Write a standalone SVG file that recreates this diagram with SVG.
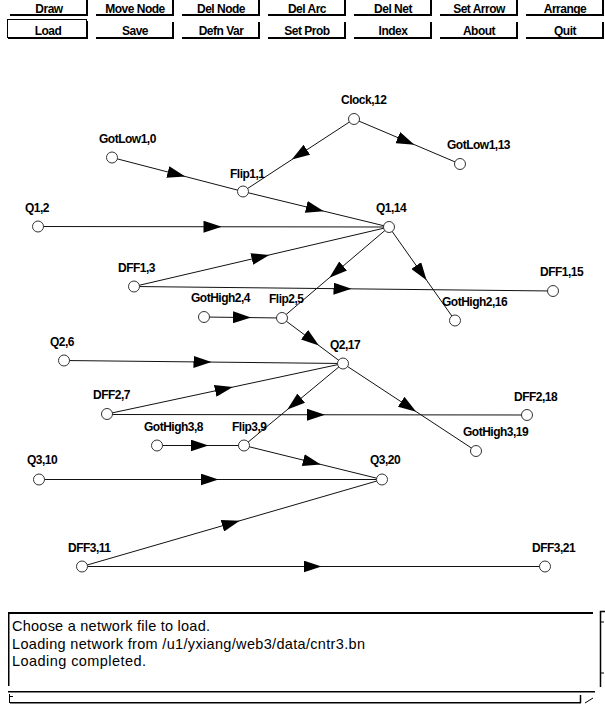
<svg xmlns="http://www.w3.org/2000/svg" width="605" height="709" viewBox="0 0 605 709">
<style>
.btn{font-family:"Liberation Sans",Arial,sans-serif;font-weight:bold;font-size:12px;letter-spacing:-0.5px;text-anchor:middle;fill:#000}
.lbl{font-family:"Liberation Sans",Arial,sans-serif;font-weight:bold;font-size:12px;letter-spacing:-0.5px;fill:#000}
.msg{font-family:"Liberation Sans",Arial,sans-serif;font-size:14.5px;fill:#000}
.edge{fill:none;stroke:#111;stroke-width:1;marker-mid:url(#arr)}
.node circle{fill:#fff;stroke:#333;stroke-width:1}
.bar{fill:#000}
</style>
<defs>
<marker id="arr" markerUnits="userSpaceOnUse" viewBox="-10 -6 18 12" refX="0" refY="0" markerWidth="18" markerHeight="12" orient="auto">
<polygon points="-10,-6 8,0 -10,6" fill="#000"/>
</marker>
</defs>
<rect width="605" height="709" fill="#fff"/>
<g id="toolbar">
<g id="btn-draw"><rect class="bar" x="10" y="14" width="78" height="2"/><rect class="bar" x="86" y="0" width="2" height="16"/><text class="btn" x="49" y="12.5">Draw</text></g>
<g id="btn-move"><rect class="bar" x="96" y="14" width="78" height="2"/><rect class="bar" x="172" y="0" width="2" height="16"/><text class="btn" x="135" y="12.5">Move Node</text></g>
<g id="btn-delnode"><rect class="bar" x="182" y="14" width="78" height="2"/><rect class="bar" x="258" y="0" width="2" height="16"/><text class="btn" x="221" y="12.5">Del Node</text></g>
<g id="btn-delarc"><rect class="bar" x="268" y="14" width="78" height="2"/><rect class="bar" x="344" y="0" width="2" height="16"/><text class="btn" x="307" y="12.5">Del Arc</text></g>
<g id="btn-delnet"><rect class="bar" x="354" y="14" width="78" height="2"/><rect class="bar" x="430" y="0" width="2" height="16"/><text class="btn" x="393" y="12.5">Del Net</text></g>
<g id="btn-setarrow"><rect class="bar" x="440" y="14" width="78" height="2"/><rect class="bar" x="516" y="0" width="2" height="16"/><text class="btn" x="479" y="12.5">Set Arrow</text></g>
<g id="btn-arrange"><rect class="bar" x="526" y="14" width="78" height="2"/><rect class="bar" x="602" y="0" width="2" height="16"/><text class="btn" x="565" y="12.5">Arrange</text></g>
<g id="btn-load"><rect x="7.5" y="19.5" width="79" height="18" fill="none" stroke="#000" stroke-width="1"/><rect class="bar" x="8" y="37" width="80" height="2"/><rect class="bar" x="86" y="21" width="2" height="18"/><text class="btn" x="48" y="35">Load</text></g>
<g id="btn-save"><rect class="bar" x="96" y="37" width="78" height="2"/><rect class="bar" x="172" y="22" width="2" height="17"/><text class="btn" x="135" y="35">Save</text></g>
<g id="btn-defnvar"><rect class="bar" x="182" y="37" width="78" height="2"/><rect class="bar" x="258" y="22" width="2" height="17"/><text class="btn" x="221" y="35">Defn Var</text></g>
<g id="btn-setprob"><rect class="bar" x="268" y="37" width="78" height="2"/><rect class="bar" x="344" y="22" width="2" height="17"/><text class="btn" x="307" y="35">Set Prob</text></g>
<g id="btn-index"><rect class="bar" x="354" y="37" width="78" height="2"/><rect class="bar" x="430" y="22" width="2" height="17"/><text class="btn" x="393" y="35">Index</text></g>
<g id="btn-about"><rect class="bar" x="440" y="37" width="78" height="2"/><rect class="bar" x="516" y="22" width="2" height="17"/><text class="btn" x="479" y="35">About</text></g>
<g id="btn-quit"><rect class="bar" x="526" y="37" width="78" height="2"/><rect class="bar" x="602" y="22" width="2" height="17"/><text class="btn" x="565" y="35">Quit</text></g>
</g>
<g id="connectors">
<path class="edge" d="M112,157.5 L177.5,174.5 L243,191.5"/>
<path class="edge" d="M354,119 L298.5,155.25 L243,191.5"/>
<path class="edge" d="M354,119 L407,141.5 L460,164"/>
<path class="edge" d="M243,191.5 L316,209.25 L389,227"/>
<path class="edge" d="M38,226.5 L213.5,226.75 L389,227"/>
<path class="edge" d="M134,286.5 L261.5,256.75 L389,227"/>
<path class="edge" d="M389,227 L335.5,272.5 L282,318"/>
<path class="edge" d="M389,227 L422,273.75 L455,320.5"/>
<path class="edge" d="M134,286.5 L343.5,288.75 L553,291"/>
<path class="edge" d="M204,317 L243,317.5 L282,318"/>
<path class="edge" d="M282,318 L312.5,340.75 L343,363.5"/>
<path class="edge" d="M64,360.5 L203.5,362 L343,363.5"/>
<path class="edge" d="M107,414 L225,388.75 L343,363.5"/>
<path class="edge" d="M343,363.5 L293.5,404.5 L244,445.5"/>
<path class="edge" d="M343,363.5 L409.5,407.25 L476,451"/>
<path class="edge" d="M107,414.5 L317,414.75 L527,415"/>
<path class="edge" d="M157,445.5 L200.5,445.5 L244,445.5"/>
<path class="edge" d="M244,445.5 L313,462.5 L382,479.5"/>
<path class="edge" d="M39,479.5 L210.5,479.5 L382,479.5"/>
<path class="edge" d="M82,566.5 L232,523 L382,479.5"/>
<path class="edge" d="M82,566.5 L313.5,566.5 L545,566.5"/>
</g>
<g id="n0" class="node"><circle cx="112" cy="157.5" r="5.5"/><text class="lbl" x="99" y="143">GotLow1,0</text></g>
<g id="n1" class="node"><circle cx="243" cy="191.5" r="5.5"/><text class="lbl" x="230" y="178">Flip1,1</text></g>
<g id="n2" class="node"><circle cx="38" cy="226.5" r="5.5"/><text class="lbl" x="25" y="212">Q1,2</text></g>
<g id="n3" class="node"><circle cx="134" cy="286.5" r="5.5"/><text class="lbl" x="118" y="272">DFF1,3</text></g>
<g id="n4" class="node"><circle cx="204" cy="317" r="5.5"/><text class="lbl" x="191" y="302">GotHigh2,4</text></g>
<g id="n5" class="node"><circle cx="282" cy="318" r="5.5"/><text class="lbl" x="269" y="303">Flip2,5</text></g>
<g id="n6" class="node"><circle cx="64" cy="360.5" r="5.5"/><text class="lbl" x="50" y="346">Q2,6</text></g>
<g id="n7" class="node"><circle cx="107" cy="414" r="5.5"/><text class="lbl" x="93" y="399">DFF2,7</text></g>
<g id="n8" class="node"><circle cx="157" cy="445.5" r="5.5"/><text class="lbl" x="144" y="431">GotHigh3,8</text></g>
<g id="n9" class="node"><circle cx="244" cy="445.5" r="5.5"/><text class="lbl" x="232" y="431">Flip3,9</text></g>
<g id="n10" class="node"><circle cx="39" cy="479.5" r="5.5"/><text class="lbl" x="27" y="464">Q3,10</text></g>
<g id="n11" class="node"><circle cx="82" cy="566.5" r="5.5"/><text class="lbl" x="68" y="552">DFF3,11</text></g>
<g id="n12" class="node"><circle cx="354" cy="119" r="5.5"/><text class="lbl" x="341" y="104">Clock,12</text></g>
<g id="n13" class="node"><circle cx="460" cy="164" r="5.5"/><text class="lbl" x="447" y="149">GotLow1,13</text></g>
<g id="n14" class="node"><circle cx="389" cy="227" r="5.5"/><text class="lbl" x="376" y="212">Q1,14</text></g>
<g id="n15" class="node"><circle cx="553" cy="291" r="5.5"/><text class="lbl" x="540" y="276">DFF1,15</text></g>
<g id="n16" class="node"><circle cx="455" cy="320.5" r="5.5"/><text class="lbl" x="442" y="306">GotHigh2,16</text></g>
<g id="n17" class="node"><circle cx="343" cy="363.5" r="5.5"/><text class="lbl" x="330" y="349">Q2,17</text></g>
<g id="n18" class="node"><circle cx="527" cy="415" r="5.5"/><text class="lbl" x="514" y="401">DFF2,18</text></g>
<g id="n19" class="node"><circle cx="476" cy="451" r="5.5"/><text class="lbl" x="463" y="436">GotHigh3,19</text></g>
<g id="n20" class="node"><circle cx="382" cy="479.5" r="5.5"/><text class="lbl" x="370" y="464">Q3,20</text></g>
<g id="n21" class="node"><circle cx="545" cy="566.5" r="5.5"/><text class="lbl" x="532" y="552">DFF3,21</text></g>
<g id="messages">
<rect class="bar" x="8" y="612" width="585" height="2"/>
<rect class="bar" x="8" y="612" width="1.5" height="74"/>
<text class="msg" x="12" y="631" textLength="198" lengthAdjust="spacing">Choose a network file to load.</text>
<text class="msg" x="12" y="649" textLength="353" lengthAdjust="spacing">Loading network from /u1/yxiang/web3/data/cntr3.bn</text>
<text class="msg" x="12" y="666" textLength="134" lengthAdjust="spacing">Loading completed.</text>
<path d="M605,611.5 H600.5 V687" fill="none" stroke="#000" stroke-width="1.5"/>
<path d="M601,622 H604 M601,673 H604" stroke="#000" stroke-width="1"/>
<rect class="bar" x="8" y="691" width="587" height="1.5"/>
<path d="M9.5,694 V703 M9.5,696.5 H13" stroke="#000" stroke-width="1"/>
<rect class="bar" x="10" y="702" width="571" height="1.5"/>
<path d="M580.5,695 V703" stroke="#000" stroke-width="1.5"/>
<path d="M585,703 L593,698" stroke="#000" stroke-width="1"/>
</g>
</svg>
